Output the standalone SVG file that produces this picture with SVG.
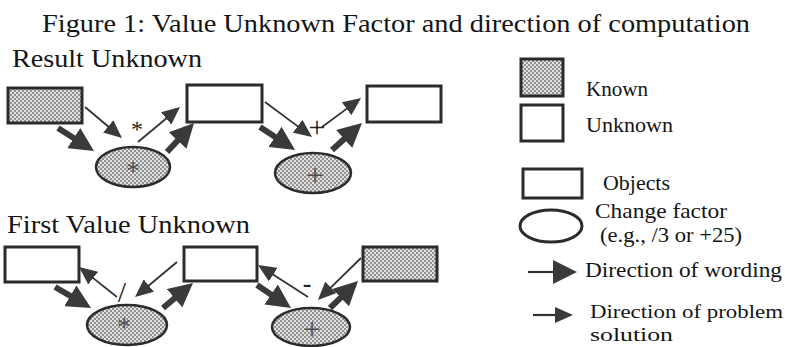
<svg xmlns="http://www.w3.org/2000/svg" width="785" height="347" viewBox="0 0 785 347">
  <defs>
    <!-- dotted screen used for known values and change factors -->
    <pattern id="stipple" patternUnits="userSpaceOnUse" width="4" height="4">
      <rect width="4" height="4" fill="#e2e2e2"/>
      <circle cx="1" cy="1" r="0.95" fill="#6e6e6e"/>
      <circle cx="3" cy="3" r="0.95" fill="#6e6e6e"/>
    </pattern>
    <marker id="head-sm" markerUnits="userSpaceOnUse" markerWidth="18" markerHeight="16" refX="2" refY="8" orient="auto">
      <path d="M0,0 L18,8 L0,16 z" fill="#3a3a3a"/>
    </marker>
    <marker id="head-lg" markerUnits="userSpaceOnUse" markerWidth="24" markerHeight="24" refX="3" refY="12" orient="auto">
      <path d="M0,0 L24,12 L0,24 z" fill="#3a3a3a"/>
    </marker>
    <style>
      text { font-family: "Liberation Serif", "DejaVu Serif", serif; fill: #151515; }
      .title { font-size: 26px; }
      .section { font-size: 26px; }
      .legend { font-size: 21px; }
      .legend-sm { font-size: 19px; }
      .obj { stroke: #2b2b2b; stroke-width: 3; }
      .known { fill: url(#stipple); }
      .unknown { fill: #ffffff; }
      .factor { fill: url(#stipple); stroke: #2b2b2b; stroke-width: 2.5; }
      .op-in { font-size: 28px; fill: #505050; text-anchor: middle; }
      .op { font-size: 24px; fill: #222; text-anchor: middle; }
      .thin { stroke: #333; stroke-width: 1.8; fill: none; marker-end: url(#head-sm); }
      .thick { stroke: #3a3a3a; stroke-width: 6; fill: none; marker-end: url(#head-lg); }
      .leg-thin { stroke: #333; stroke-width: 2.2; fill: none; }
    </style>
  </defs>

  <rect width="785" height="347" fill="#ffffff"/>

  <text class="title" x="42" y="32" textLength="708" lengthAdjust="spacingAndGlyphs">Figure 1: Value Unknown Factor and direction of computation</text>
  <text class="section" x="12" y="67" textLength="190" lengthAdjust="spacingAndGlyphs">Result Unknown</text>
  <text class="section" x="7" y="233" textLength="243" lengthAdjust="spacingAndGlyphs">First Value Unknown</text>

  <!-- Result Unknown: a * b = ?  then  ? + c = ? -->
  <g id="r-known-a"><rect class="obj known" x="8" y="88" width="74" height="35"/></g>
  <g id="r-factor-mul">
    <ellipse class="factor" cx="133" cy="167" rx="37" ry="20"/>
    <text class="op-in" x="133" y="180">*</text>
  </g>
  <g id="r-unknown-b"><rect class="obj unknown" x="187" y="85" width="75" height="37"/></g>
  <g id="r-factor-add">
    <ellipse class="factor" cx="313" cy="173" rx="38" ry="20"/>
    <text class="op-in" x="315" y="186" style="font-size:32px">+</text>
  </g>
  <g id="r-unknown-c"><rect class="obj unknown" x="367" y="86" width="74" height="36"/></g>

  <!-- First Value Unknown: ? / x = ?  then  ? - y = known -->
  <g id="f-unknown-d"><rect class="obj unknown" x="5" y="247" width="74" height="35"/></g>
  <g id="f-factor-div">
    <ellipse class="factor" cx="127" cy="325" rx="40" ry="20"/>
    <text class="op-in" x="124" y="336">*</text>
  </g>
  <g id="f-unknown-e"><rect class="obj unknown" x="184" y="247" width="73" height="34"/></g>
  <g id="f-factor-sub">
    <ellipse class="factor" cx="311" cy="327" rx="39" ry="19"/>
    <text class="op-in" x="312" y="340" style="font-size:32px">+</text>
  </g>
  <g id="f-known-f"><rect class="obj known" x="363" y="247" width="74" height="34"/></g>

  <g id="connectors">
    <!-- Result Unknown, first step -->
    <line class="thin" x1="85" y1="107" x2="109.7" y2="127.7"/>
    <line class="thick" x1="58" y1="128" x2="76.3" y2="139.7"/>
    <line class="thin" x1="138" y1="142" x2="167.7" y2="117.2"/>
    <line class="thick" x1="167" y1="152" x2="179.7" y2="138.4"/>
    <!-- Result Unknown, second step -->
    <line class="thin" x1="265" y1="102" x2="299.2" y2="127.4"/>
    <line class="thin" x1="322" y1="127" x2="348.2" y2="107.6"/>
    <line class="thick" x1="260" y1="127" x2="277.5" y2="138.5"/>
    <line class="thick" x1="332" y1="150" x2="346.4" y2="137"/>
    <!-- First Value Unknown, first step -->
    <line class="thin" x1="117" y1="297" x2="91.6" y2="276.9"/>
    <line class="thick" x1="55" y1="287" x2="72.9" y2="297.4"/>
    <line class="thin" x1="177" y1="262" x2="147.3" y2="286.8"/>
    <line class="thick" x1="163" y1="308" x2="176.9" y2="296.4"/>
    <!-- First Value Unknown, second step -->
    <line class="thin" x1="308" y1="297" x2="271.5" y2="273.6"/>
    <line class="thick" x1="257" y1="285" x2="273.6" y2="296.2"/>
    <line class="thin" x1="361" y1="258" x2="329.4" y2="288.8"/>
    <line class="thick" x1="330" y1="308" x2="342.9" y2="295.6"/>

    <!-- operator labels on the solution paths -->
    <text class="op" x="137" y="137">*</text>
    <text class="op" x="317" y="137" style="font-size:30px">+</text>
    <text class="op" x="122" y="302" style="font-size:30px">/</text>
    <text class="op" x="307" y="292" style="font-size:26px;font-weight:bold">-</text>
  </g>

  <!-- legend -->
  <g id="legend">
    <rect class="obj known" x="521" y="59" width="42" height="37"/>
    <text class="legend" x="586" y="96" textLength="62" lengthAdjust="spacingAndGlyphs">Known</text>
    <rect class="obj unknown" x="521" y="105" width="42" height="36"/>
    <text class="legend" x="586" y="132" textLength="87" lengthAdjust="spacingAndGlyphs">Unknown</text>
    <rect class="obj unknown" x="523" y="169" width="59" height="29"/>
    <text class="legend" x="603" y="190" textLength="67" lengthAdjust="spacingAndGlyphs">Objects</text>
    <ellipse cx="551" cy="226" rx="31" ry="16" fill="#fff" stroke="#2b2b2b" stroke-width="3"/>
    <text class="legend" x="595" y="218" textLength="132" lengthAdjust="spacingAndGlyphs">Change factor</text>
    <text class="legend" x="600" y="242" textLength="142" lengthAdjust="spacingAndGlyphs">(e.g., /3 or +25)</text>
    <line class="leg-thin" x1="528" y1="272" x2="556" y2="272" marker-end="url(#head-lg)"/>
    <text class="legend" x="585" y="277" textLength="197" lengthAdjust="spacingAndGlyphs">Direction of wording</text>
    <line class="leg-thin" x1="533" y1="315" x2="557" y2="315" marker-end="url(#head-sm)"/>
    <text class="legend-sm" x="590" y="318" textLength="193" lengthAdjust="spacingAndGlyphs">Direction of problem</text>
    <text class="legend-sm" x="590" y="341" textLength="83" lengthAdjust="spacingAndGlyphs">solution</text>
  </g>
</svg>
